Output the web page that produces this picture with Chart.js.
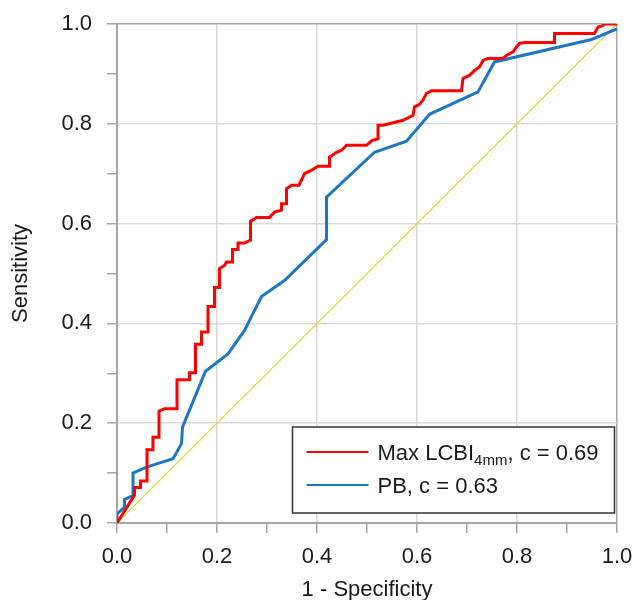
<!DOCTYPE html>
<html>
<head>
<meta charset="utf-8">
<script src="https://cdn.jsdelivr.net/npm/chart.js@4.4.0/dist/chart.umd.min.js"></script>
<style>
  html, body { margin: 0; padding: 0; background: #fff; }
  #wrap { width: 635px; height: 600px; position: relative; }
</style>
</head>
<body>
<div id="wrap"><canvas id="roc"></canvas></div>
<script>
// ROC curve points (1 - specificity, sensitivity)
var lcbiFpr = [0, 0.035, 0.035, 0.047, 0.047, 0.060, 0.060, 0.072, 0.072, 0.084, 0.084, 0.095, 0.120,
  0.120, 0.145, 0.145, 0.157, 0.157, 0.169, 0.169, 0.182, 0.182, 0.195, 0.195, 0.205, 0.205, 0.215,
  0.219, 0.231, 0.231, 0.242, 0.242, 0.255, 0.267, 0.267, 0.279, 0.305, 0.315, 0.329, 0.329, 0.339,
  0.339, 0.349, 0.364, 0.375, 0.389, 0.402, 0.425, 0.425, 0.439, 0.449, 0.459, 0.499, 0.509, 0.522,
  0.522, 0.532, 0.572, 0.582, 0.592, 0.595, 0.605, 0.612, 0.619, 0.629, 0.689, 0.692, 0.705, 0.715,
  0.725, 0.732, 0.742, 0.772, 0.779, 0.792, 0.799, 0.805, 0.815, 0.875, 0.875, 0.955, 0.962, 0.972,
  0.972, 1.0];
var lcbiTpr = [0, 0.056, 0.071, 0.071, 0.084, 0.084, 0.147, 0.147, 0.172, 0.172, 0.224, 0.229, 0.229,
  0.287, 0.287, 0.301, 0.301, 0.358, 0.358, 0.383, 0.383, 0.434, 0.434, 0.472, 0.472, 0.510, 0.516,
  0.523, 0.523, 0.548, 0.548, 0.561, 0.561, 0.567, 0.605, 0.612, 0.612, 0.623, 0.627, 0.640, 0.640,
  0.670, 0.677, 0.677, 0.700, 0.707, 0.715, 0.715, 0.733, 0.743, 0.747, 0.757, 0.757, 0.766, 0.770,
  0.797, 0.797, 0.807, 0.812, 0.817, 0.834, 0.839, 0.848, 0.861, 0.866, 0.866, 0.891, 0.897, 0.907,
  0.914, 0.927, 0.931, 0.931, 0.937, 0.944, 0.954, 0.961, 0.963, 0.963, 0.981, 0.981, 0.994, 0.997,
  1.0, 1.0];

var pbFpr = [0, 0, 0.015, 0.015, 0.032, 0.032, 0.059, 0.112, 0.129, 0.131, 0.177, 0.222, 0.255, 0.289,
  0.335, 0.419, 0.419, 0.515, 0.579, 0.625, 0.722, 0.755, 0.949, 1.0];
var pbTpr = [0, 0.018, 0.032, 0.047, 0.055, 0.100, 0.112, 0.129, 0.159, 0.192, 0.304, 0.339, 0.386,
  0.454, 0.486, 0.568, 0.653, 0.743, 0.765, 0.819, 0.864, 0.924, 0.969, 0.99];

var refX = [0, 1];
var refY = [0, 1];

var seriesNames = ['Max LCBI', 'PB'];
var cValues = ['0.69', '0.63'];

var FONT = '"Liberation Sans", Arial, sans-serif';
var axisGray = '#a6a6a6';
var gridGray = '#d9d9d9';

function toPoints(xs, ys) {
  var pts = [];
  for (var i = 0; i < xs.length; i++) pts.push({ x: xs[i], y: ys[i] });
  return pts;
}

function majorLabel(v) {
  var k = Math.round(v * 10);
  return k % 2 === 0 ? (k / 10).toFixed(1) : '';
}

function gridColor(ctx) {
  if (!ctx.tick) return gridGray;
  var k = Math.round(ctx.tick.value * 10);
  if (k === 10) return axisGray;
  return k % 2 === 0 ? gridGray : 'rgba(0,0,0,0)';
}

// legend box with the subscript, drawn on top of the plot
var rocLegend = {
  id: 'rocLegend',
  afterDraw: function (chart) {
    var c = chart.ctx, a = chart.chartArea;
    var bx = a.left + 175.5, by = a.bottom - 96, bw = 322, bh = 86;
    c.save();
    c.fillStyle = '#fff';
    c.fillRect(bx, by, bw, bh);
    c.strokeStyle = '#333';
    c.lineWidth = 1.5;
    c.strokeRect(bx, by, bw, bh);

    var rows = [
      { col: '#ff0000', y: by + 25 },
      { col: '#1f77c4', y: by + 58 }
    ];
    c.lineWidth = 2;
    rows.forEach(function (r) {
      c.strokeStyle = r.col;
      c.beginPath();
      c.moveTo(bx + 14, r.y);
      c.lineTo(bx + 76, r.y);
      c.stroke();
    });

    c.fillStyle = '#1a1a1a';
    c.textBaseline = 'alphabetic';
    c.textAlign = 'left';
    var tx = bx + 85;
    c.font = '22px ' + FONT;
    c.fillText(seriesNames[0], tx, rows[0].y + 8);
    var w = c.measureText(seriesNames[0]).width;
    c.font = '15px ' + FONT;
    c.fillText('4mm', tx + w, rows[0].y + 13);
    var w2 = c.measureText('4mm').width;
    c.font = '22px ' + FONT;
    c.fillText(', c = ' + cValues[0], tx + w + w2, rows[0].y + 8);
    c.fillText(seriesNames[1] + ', c = ' + cValues[1], tx, rows[1].y + 8);
    c.restore();
  }
};

new Chart(document.getElementById('roc').getContext('2d'), {
  type: 'scatter',
  data: {
    datasets: [
      {
        label: 'Max LCBI4mm',
        data: toPoints(lcbiFpr, lcbiTpr),
        showLine: true,
        borderColor: '#ff0000',
        borderWidth: 3,
        pointRadius: 0,
        tension: 0
      },
      {
        label: 'PB',
        data: toPoints(pbFpr, pbTpr),
        showLine: true,
        borderColor: '#1f77c4',
        borderWidth: 3,
        pointRadius: 0,
        tension: 0
      },
      {
        label: 'reference',
        data: toPoints(refX, refY),
        showLine: true,
        borderColor: '#d6d62a',
        borderWidth: 1.2,
        pointRadius: 0
      }
    ]
  },
  options: {
    responsive: true,
    maintainAspectRatio: false,
    animation: false,
    layout: { padding: { top: 24, right: 18, left: 0, bottom: -3 } },
    plugins: {
      legend: { display: false },
      tooltip: { enabled: false }
    },
    scales: {
      x: {
        type: 'linear',
        min: 0,
        max: 1,
        afterFit: function (s) {
          s.height = 80;
          s.paddingLeft = 0;
          s.paddingRight = 0;
        },
        ticks: {
          stepSize: 0.1,
          autoSkip: false,
          maxRotation: 0,
          padding: 11,
          color: '#1a1a1a',
          font: { size: 22, family: FONT },
          callback: majorLabel
        },
        grid: {
          color: gridColor,
          lineWidth: 1.5,
          tickColor: axisGray,
          tickLength: 10
        },
        border: { color: axisGray, width: 2 },
        title: {
          display: true,
          text: '1 - Specificity',
          color: '#1a1a1a',
          font: { size: 22, family: FONT },
          padding: { top: 0, bottom: 0 }
        }
      },
      y: {
        type: 'linear',
        min: 0,
        max: 1,
        afterFit: function (s) {
          s.width = 117;
          s.paddingTop = 0;
          s.paddingBottom = 0;
        },
        ticks: {
          stepSize: 0.1,
          autoSkip: false,
          padding: 15,
          color: '#1a1a1a',
          font: { size: 22, family: FONT },
          callback: majorLabel
        },
        grid: {
          color: gridColor,
          lineWidth: 1.5,
          tickColor: axisGray,
          tickLength: 10
        },
        border: { color: axisGray, width: 2 },
        title: {
          display: true,
          text: 'Sensitivity',
          color: '#1a1a1a',
          font: { size: 22, family: FONT },
          padding: { top: 8, bottom: 0 }
        }
      }
    }
  },
  plugins: [rocLegend]
});
</script>
</body>
</html>
